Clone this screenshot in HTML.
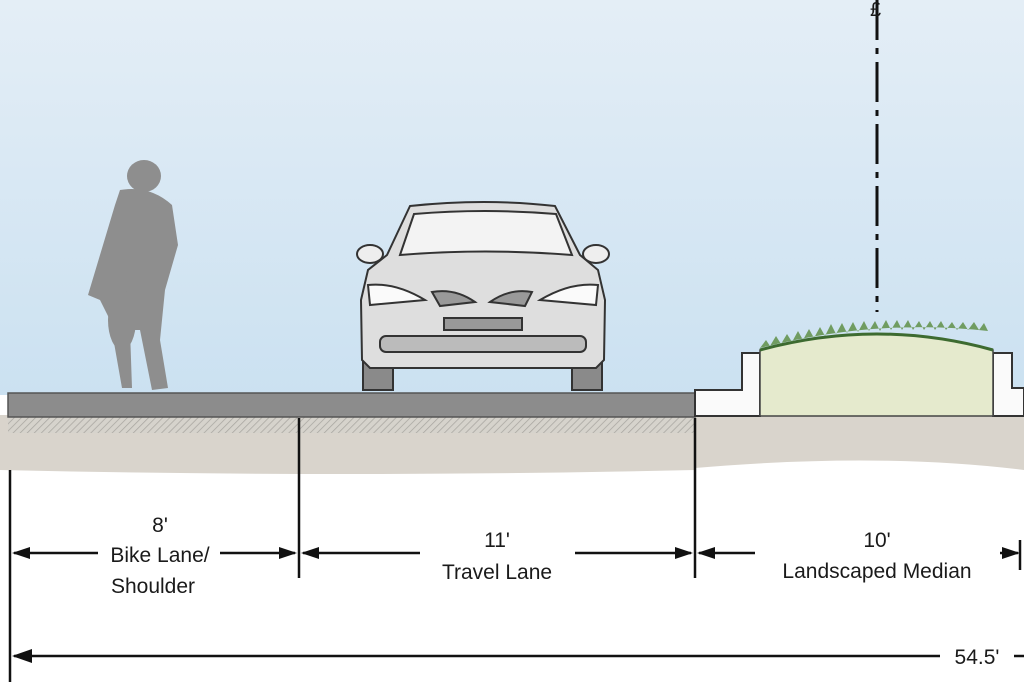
<!DOCTYPE html>
<html><head><style>
html,body{margin:0;padding:0;background:#fff}
svg{display:block}
text{font-family:"Liberation Sans",sans-serif;fill:#1a1a1a}
</style></head><body>
<svg width="1024" height="682" viewBox="0 0 1024 682" xmlns="http://www.w3.org/2000/svg">
<defs>
<linearGradient id="sky" x1="0" y1="0" x2="0" y2="1">
<stop offset="0" stop-color="#e4eef6"/><stop offset="1" stop-color="#cbe1f1"/>
</linearGradient>
<pattern id="hatch" width="5" height="5" patternUnits="userSpaceOnUse" patternTransform="rotate(45)">
<rect width="5" height="5" fill="#d6d3cc"/><line x1="0" y1="0" x2="0" y2="5" stroke="#a8a6a0" stroke-width="1.5"/>
</pattern>
</defs>
<rect width="1024" height="395" fill="url(#sky)"/>
<rect y="395" width="1024" height="287" fill="#fff"/>
<path d="M0 415 L695 415 L695 470 Q350 478 0 470 Z" fill="#d9d4cc"/>
<path d="M695 415 L1024 415 L1024 470 Q880 452 695 468 Z" fill="#d9d4cc"/>
<rect x="8" y="417" width="687" height="16" fill="url(#hatch)"/>
<rect x="8" y="393" width="687" height="24" fill="#8c8c8c" stroke="#555" stroke-width="1.5"/>
<path d="M695 390 L742 390 L742 353 L760 353 L760 416 L695 416 Z" fill="#fafafa" stroke="#333" stroke-width="2"/>
<path d="M993 416 L993 353 L1012 353 L1012 388 L1024 388 L1024 416 Z" fill="#fafafa" stroke="#333" stroke-width="2"/>
<path d="M760 416 L760 350 Q877 318 993 350 L993 416 Z" fill="#e5eacd" stroke="#444" stroke-width="1.5"/>
<path d="M760 350 Q877 318 993 350" fill="none" stroke="#3d6b30" stroke-width="3"/>
<path d="M760 348 l6 -8 l4 6 l6 -10 l5 8 l6 -10 l5 8 l6 -11 l5 9 l6 -11 l5 9 l6 -11 l5 9 l6 -12 l5 10 l6 -11 l5 10 l6 -11 l5 10 l6 -11 l5 10 l6 -10 l5 10 l6 -11 l5 10 l6 -10 l5 10 l6 -10 l5 10 l6 -9 l5 9 l6 -9 l5 9 l6 -9 l5 9 l6 -8 l5 8 l6 -8 l5 8 l6 -8 l5 8 l5 -7 l4 8 Q877 318 760 348Z" fill="#5f8f48" opacity="0.85"/>
<line x1="877" y1="0" x2="877" y2="312" stroke="#111" stroke-width="3" stroke-dasharray="40,8,6,8"/>
<text x="870" y="16" font-size="20">£</text>
<g fill="#8e8e8e">
<ellipse cx="144" cy="176" rx="17" ry="16"/>
<path d="M120 190 Q150 185 172 205 L178 245 L165 290 L160 340 L168 388 L152 390 L140 330 L130 330 L132 388 L122 388 L110 320 L100 300 L88 295 L100 255 L115 205 Z"/>
<ellipse cx="122" cy="320" rx="14" ry="30"/>
</g>
<g stroke="#333" stroke-width="2">
<rect x="363" y="360" width="30" height="30" fill="#8a8a8a"/>
<rect x="572" y="360" width="30" height="30" fill="#8a8a8a"/>
<path d="M410 206 Q485 198 555 206 L580 255 L598 270 L605 300 L604 360 L596 368 L370 368 L362 360 L361 300 L368 270 L387 255 Z" fill="#dedede"/>
<path d="M400 255 L414 214 Q485 208 556 214 L572 255 Q485 248 400 255Z" fill="#f3f3f3"/>
<ellipse cx="370" cy="254" rx="13" ry="9" fill="#eee"/>
<ellipse cx="596" cy="254" rx="13" ry="9" fill="#eee"/>
<path d="M368 285 Q395 282 425 300 L370 305 Z" fill="#fafafa"/>
<path d="M598 285 Q570 282 540 300 L596 305 Z" fill="#fafafa"/>
<path d="M432 292 Q455 288 475 302 L440 306 Z" fill="#999"/>
<path d="M532 292 Q510 288 490 302 L525 306 Z" fill="#999"/>
<rect x="444" y="318" width="78" height="12" fill="#999"/>
<rect x="380" y="336" width="206" height="16" rx="6" fill="#bbb"/>
</g>
<g stroke="#111" stroke-width="2.5">
<line x1="10" y1="470" x2="10" y2="682"/>
<line x1="299" y1="418" x2="299" y2="578"/>
<line x1="695" y1="418" x2="695" y2="578"/>
<line x1="1020" y1="540" x2="1020" y2="570"/>
<line x1="14" y1="553" x2="98" y2="553"/>
<line x1="220" y1="553" x2="295" y2="553"/>
<line x1="303" y1="553" x2="420" y2="553"/>
<line x1="575" y1="553" x2="691" y2="553"/>
<line x1="699" y1="553" x2="755" y2="553"/>
<line x1="1000" y1="553" x2="1018" y2="553"/>
<line x1="14" y1="656" x2="940" y2="656"/>
<line x1="1014" y1="656" x2="1024" y2="656"/>
</g>
<g fill="#111">
<path d="M12 553 l18 -6 l0 12Z"/><path d="M297 553 l-18 -6 l0 12Z"/>
<path d="M301 553 l18 -6 l0 12Z"/><path d="M693 553 l-18 -6 l0 12Z"/>
<path d="M697 553 l18 -6 l0 12Z"/><path d="M1020 553 l-18 -6 l0 12Z"/>
<path d="M12 656 l20 -7 l0 14Z"/>
</g>
<g font-size="21" text-anchor="middle">
<text x="160" y="532">8'</text>
<text x="160" y="562">Bike Lane/</text>
<text x="153" y="593">Shoulder</text>
<text x="497" y="547">11'</text>
<text x="497" y="579">Travel Lane</text>
<text x="877" y="547">10'</text>
<text x="877" y="578">Landscaped Median</text>
<text x="977" y="664">54.5'</text>
</g>
</svg>
</body></html>
